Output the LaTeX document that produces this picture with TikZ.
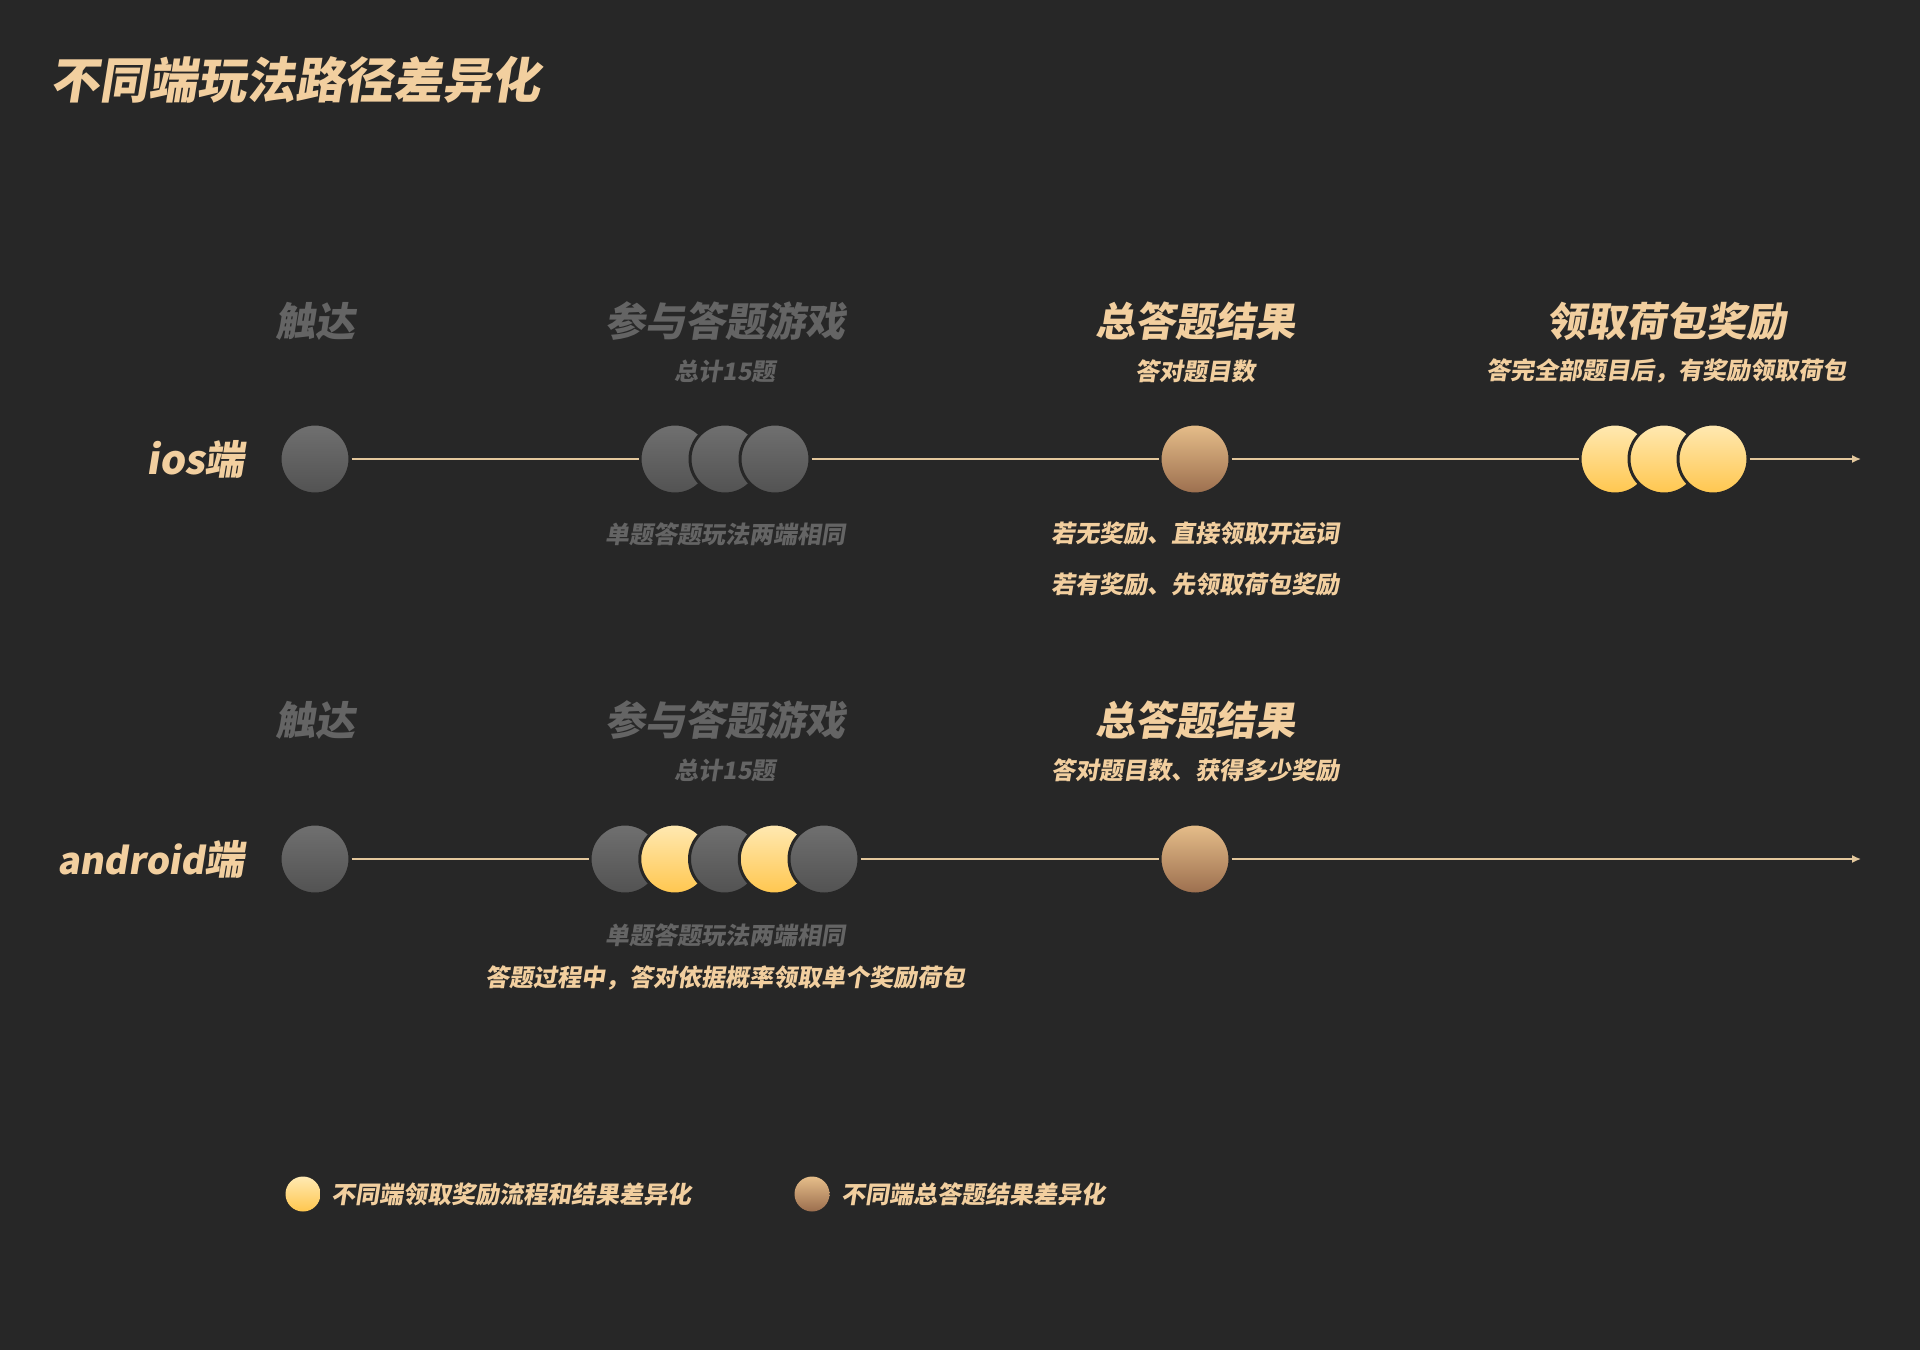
\documentclass[tikz,border=0pt]{standalone}
\usepackage{fontspec}
\setmainfont{Noto Sans CJK SC}[FakeSlant=0.16]
\usetikzlibrary{arrows.meta}
\definecolor{bgc}{HTML}{272727}
\definecolor{peach}{HTML}{F2CF9F}
\definecolor{greytxt}{HTML}{646464}
\definecolor{linec}{HTML}{E3C79C}
\definecolor{greyA}{HTML}{707070}
\definecolor{greyB}{HTML}{525252}
\definecolor{goldA}{HTML}{FFE9B3}
\definecolor{goldB}{HTML}{FFC64E}
\definecolor{brownA}{HTML}{E6BE8A}
\definecolor{brownB}{HTML}{9B6E4E}
\tikzset{
  txt/.style={inner sep=0pt, anchor=center, font=\bfseries},
  head/.style={txt, font=\bfseries\fontsize{40}{44}\selectfont},
  sub/.style={txt, font=\bfseries\fontsize{24}{28}\selectfont},
  lab/.style={inner sep=0pt, anchor=east, text=peach, font=\bfseries\fontsize{40}{44}\selectfont},
  dot/.style={circle, minimum size=70pt, inner sep=0pt, draw=bgc, line width=3pt},
  greydot/.style={dot, top color=greyA, bottom color=greyB},
  golddot/.style={dot, top color=goldA, bottom color=goldB},
  browndot/.style={dot, top color=brownA, bottom color=brownB},
  smalldot/.style={circle, minimum size=35pt, inner sep=0pt},
  conn/.style={draw=linec, line width=1.5pt},
  arr/.style={conn, -{Latex[length=9pt,width=8pt]}},
}
\begin{document}
\begin{tikzpicture}[x=1pt,y=-1pt]
\fill[bgc] (0,0) rectangle (1920,1350);
\useasboundingbox (0,0) rectangle (1920,1350);

% title
\node[inner sep=0pt, anchor=west, text=peach, font=\bfseries\fontsize{49}{54}\selectfont] (title) at (50,80) {不同端玩法路径差异化};

% ---------- ios row ----------
\node[head, text=greytxt] (ih1) at (315,321) {触达};
\node[head, text=greytxt] (ih2) at (725,321) {参与答题游戏};
\node[head, text=peach] (ih3) at (1195,321) {总答题结果};
\node[head, text=peach] (ih4) at (1666,321) {领取荷包奖励};
\node[sub, text=greytxt] (is2) at (725,371) {总计15题};
\node[sub, text=peach] (is3) at (1195,371) {答对题目数};
\node[sub, text=peach] (is4) at (1666,371) {答完全部题目后，有奖励领取荷包};
\node[sub, text=greytxt] (ib2) at (725,534) {单题答题玩法两端相同};
\node[sub, text=peach] (ib3a) at (1195,534) {若无奖励、直接领取开运词};
\node[sub, text=peach] (ib3b) at (1195,584) {若有奖励、先领取荷包奖励};
\node[lab] (ilab) at (245,459) {ios端};

\node[greydot] (it) at (315,459) {};
\node[greydot] (ig1) at (675,459) {};
\node[greydot] (ig2) at (725,459) {};
\node[greydot] (ig3) at (775,459) {};
\node[browndot] (ib) at (1195,459) {};
\node[golddot] (iy1) at (1615,459) {};
\node[golddot] (iy2) at (1664,459) {};
\node[golddot] (iy3) at (1713,459) {};
\coordinate (iend) at (1861,459);

\draw[conn] (it) -- (ig1);
\draw[conn] (ig3) -- (ib);
\draw[conn] (ib) -- (iy1);
\draw[arr] (iy3) -- (iend);

% ---------- android row ----------
\node[head, text=greytxt] (ah1) at (315,720) {触达};
\node[head, text=greytxt] (ah2) at (725,720) {参与答题游戏};
\node[head, text=peach] (ah3) at (1195,720) {总答题结果};
\node[sub, text=greytxt] (as2) at (725,770) {总计15题};
\node[sub, text=peach] (as3) at (1195,770) {答对题目数、获得多少奖励};
\node[sub, text=greytxt] (ab2) at (725,935) {单题答题玩法两端相同};
\node[sub, text=peach] (ab2b) at (725,978) {答题过程中，答对依据概率领取单个奖励荷包};
\node[lab] (alab) at (245,859) {{\fontsize{37}{44}\selectfont android}端};

\node[greydot] (at) at (315,859) {};
\node[greydot] (ag1) at (625,859) {};
\node[golddot] (ag2) at (674.75,859) {};
\node[greydot] (ag3) at (724.5,859) {};
\node[golddot] (ag4) at (774.25,859) {};
\node[greydot] (ag5) at (824,859) {};
\node[browndot] (ab) at (1195,859) {};
\coordinate (aend) at (1861,859);

\draw[conn] (at) -- (ag1);
\draw[conn] (ag5) -- (ab);
\draw[arr] (ab) -- (aend);

% ---------- legend ----------
\node[smalldot, top color=goldA, bottom color=goldB] (lg1) at (303,1194) {};
\node[sub, anchor=west, text=peach] (lt1) at (331,1194) {不同端领取奖励流程和结果差异化};
\node[smalldot, top color=brownA, bottom color=brownB] (lg2) at (812,1194) {};
\node[sub, anchor=west, text=peach] (lt2) at (841,1194) {不同端总答题结果差异化};
\end{tikzpicture}
\end{document}
